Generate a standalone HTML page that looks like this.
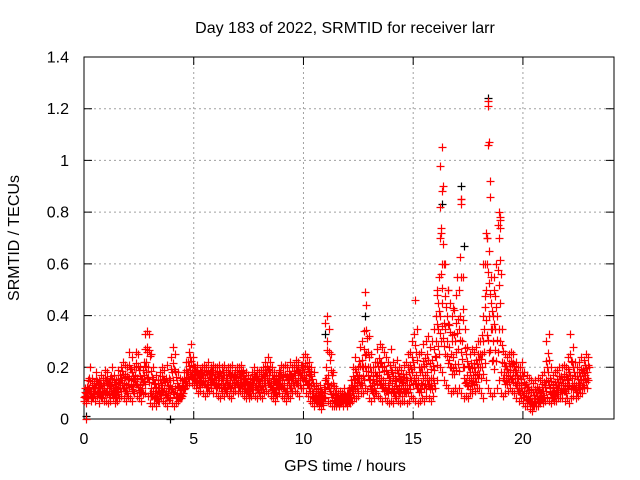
<!DOCTYPE html>
<html><head><meta charset="utf-8"><style>
body{margin:0;background:#fff;}
svg{display:block;font-family:"Liberation Sans",sans-serif;}
</style></head><body>
<svg id="chart" width="640" height="480" viewBox="0 0 640 480" xmlns="http://www.w3.org/2000/svg">
<rect width="640" height="480" fill="#fff"/>
<g id="grid"></g>
<g id="axes"></g>
<g id="marks"></g>
<text x="345" y="33" font-size="16" text-anchor="middle">Day 183 of 2022, SRMTID for receiver larr</text>
<text x="345" y="471" font-size="16" text-anchor="middle">GPS time / hours</text>
<text transform="translate(19,238) rotate(-90)" font-size="16" text-anchor="middle">SRMTID / TECUs</text>
</svg>
<script>
const xTicks=[0,5,10,15,20];
const yTicks=[0,0.2,0.4,0.6,0.8,1,1.2,1.4];
const yTickLabels=["0","0.2","0.4","0.6","0.8","1","1.2","1.4"];
const hiVals=[.12,.15,.2,.16,.14,.18,.15,.17,.16,.19, .18,.16,.2,.17,.15,.19,.2,.22,.21,.2, .26,.24,.2,.26,.25,.2,.19,.27,.34,.33, .25,.2,.17,.15,.18,.2,.19,.21,.16,.24, .28,.25,.18,.16,.15,.18,.22,.26,.29,.24, .2,.21,.19,.2,.21,.2,.22,.2,.21,.2, .2,.21,.2,.21,.19,.2,.2,.21,.19,.2, .2,.21,.19,.18,.17,.16,.18,.2,.19,.18, .19,.2,.22,.24,.22,.2,.18,.17,.19,.21, .2,.21,.2,.22,.2,.21,.23,.22,.21,.24, .25,.24,.22,.2,.18,.14,.12,.13,.1,.15, .4,.35,.25,.18,.12,.1,.11,.1,.12,.1, .12,.15,.2,.24,.2,.28,.3,.34,.44,.32, .25,.2,.22,.27,.29,.28,.26,.24,.22,.27, .22,.2,.23,.2,.19,.21,.22,.25,.26,.3, .46,.35,.25,.26,.29,.3,.32,.28,.3,.35, .5,.55,.72,.9,.6,.5,.45,.4,.42,.48, .5,.85,.55,.35,.28,.25,.27,.26,.28,.3, .3,.4,.6,.7,.65,.55,.5,.6,.75,.78, .35,.25,.24,.25,.26,.25,.22,.2,.2,.22, .18,.17,.16,.15,.14,.15,.16,.15,.17,.18, .3,.33,.2,.17,.18,.19,.2,.2,.21,.2, .24,.33,.28,.22,.2,.22,.24,.23,.25,.24];
const midVals=[.09,.1,.12,.1,.11,.13,.12,.11,.12,.13, .12,.11,.13,.12,.1,.12,.14,.15,.14,.13, .16,.15,.13,.17,.16,.13,.12,.17,.22,.2, .12,.11,.1,.09,.12,.13,.12,.11,.1,.15, .15,.12,.1,.09,.1,.13,.16,.18,.19,.18, .17,.16,.15,.16,.17,.16,.15,.16,.17,.16, .15,.16,.14,.15,.13,.16,.15,.14,.15,.16, .15,.16,.14,.13,.12,.12,.14,.15,.14,.13, .14,.15,.16,.17,.16,.14,.13,.12,.14,.15, .15,.14,.13,.15,.14,.16,.17,.16,.15,.18, .18,.17,.15,.13,.1,.09,.08,.09,.07,.1, .2,.17,.13,.1,.08,.07,.07,.08,.08,.07, .08,.1,.13,.15,.14,.17,.16,.2,.25,.2, .15,.13,.14,.17,.18,.16,.15,.14,.13,.15, .14,.12,.15,.13,.12,.14,.13,.15,.16,.18, .2,.17,.15,.14,.16,.17,.18,.15,.16,.19, .3,.35,.4,.45,.35,.3,.28,.25,.24,.26, .27,.4,.3,.2,.17,.15,.16,.17,.18,.2, .2,.25,.35,.5,.4,.35,.3,.35,.4,.45, .22,.18,.17,.18,.19,.18,.16,.14,.13,.14, .11,.1,.09,.08,.07,.08,.09,.08,.1,.11, .15,.18,.12,.1,.11,.12,.13,.13,.14,.13, .15,.17,.16,.14,.13,.14,.15,.15,.17,.18];
const loVals=[.07,.06,.08,.07,.08,.07,.09,.06,.08,.07, .07,.06,.07,.08,.06,.07,.08,.09,.08,.07, .09,.08,.07,.1,.09,.08,.07,.1,.1,.09, .06,.05,.06,.05,.07,.08,.07,.06,.05,.08, .06,.05,.06,.07,.08,.1,.12,.13,.14,.14, .13,.12,.1,.11,.1,.09,.1,.11,.12,.1, .1,.09,.08,.1,.09,.1,.09,.08,.1,.11, .1,.11,.1,.09,.08,.08,.09,.1,.09,.08, .09,.08,.1,.11,.1,.09,.08,.07,.09,.1, .09,.08,.07,.09,.08,.1,.11,.1,.09,.12, .12,.1,.09,.07,.06,.05,.06,.05,.04,.06, .08,.07,.06,.05,.05,.05,.05,.06,.05,.06, .05,.06,.07,.08,.08,.09,.1,.1,.12,.11, .08,.07,.08,.1,.09,.08,.07,.08,.07,.06, .07,.06,.08,.07,.06,.07,.07,.06,.07,.09, .08,.07,.06,.07,.08,.07,.09,.08,.07,.09, .12,.15,.2,.18,.15,.13,.12,.1,.11,.12, .1,.12,.1,.08,.09,.08,.1,.1,.11,.12, .12,.1,.08,.15,.12,.1,.09,.1,.12,.15, .1,.09,.1,.11,.12,.11,.1,.08,.07,.08, .06,.05,.05,.04,.03,.05,.05,.05,.06,.06, .07,.08,.07,.06,.07,.07,.08,.08,.08,.07, .08,.06,.08,.09,.08,.09,.1,.1,.12,.12];
const spikeT=[16.3,16.2,16.3,16.2,16.25,16.2,16.3,17.2,17.2,18.4,18.4,18.45,18.4,18.5,18.5,18.3,18.35,18.9,18.95,18.95,18.9,17.0,16.6,16.8,18.2,12.8,11.0,2.8,0.1,16.4,16.1,18.6,18.7];
const spikeV=[1.05,.98,.88,.82,.74,.7,.6,.85,.83,1.23,1.21,1.07,1.06,.92,.86,.72,.7,.8,.77,.74,.7,.55,.5,.43,.6,.49,.37,.33,0,.37,.48,.35,.55];
const blackT=[0.1,3.9,18.4,17.2,16.3,17.3,12.8,11.0];
const blackV=[0.01,0.0,1.24,.9,.83,.67,.4,.33];

const X0=84,X1=614,Y0=419,Y1=57,XMAX=24.15,YMAX=1.4;
const sx=v=>X0+v/XMAX*(X1-X0);
const sy=v=>Y0-v/YMAX*(Y0-Y1);
const NS="http://www.w3.org/2000/svg";
const grid=document.getElementById('grid'),axes=document.getElementById('axes'),marks=document.getElementById('marks');
function mk(tag,attrs,parent){const e=document.createElementNS(NS,tag);for(const k in attrs)e.setAttribute(k,attrs[k]);parent.appendChild(e);return e;}
yTicks.forEach((t,i)=>{
  const y=sy(t);
  if(t>0&&t<YMAX){const g=mk('line',{x1:X0,x2:X1,y1:y,y2:y,stroke:'#a0a0a0','stroke-dasharray':'2,3'},grid);
  
  }
  const tk=mk('path',{d:`M${X0} ${y}h8M${X1} ${y}h-8`,stroke:'#000'},axes);
  
  
  const lb=mk('text',{x:X0-15,y:y+5.5,'font-size':16,'text-anchor':'end'},axes);lb.textContent=yTickLabels[i];
  
  
});
xTicks.forEach(t=>{
  const x=sx(t);
  if(t>0){const g=mk('line',{x1:x,x2:x,y1:Y0,y2:Y1,stroke:'#a0a0a0','stroke-dasharray':'2,3'},grid);
  
  }
  const tk=mk('path',{d:`M${x} ${Y0}v-8M${x} ${Y1}v8`,stroke:'#000'},axes);
  
  
  const lb=mk('text',{x:x,y:Y0+25,'font-size':16,'text-anchor':'middle'},axes);lb.textContent=String(t);
  
  
});
const fr=mk('rect',{x:X0,y:Y1,width:X1-X0,height:Y0-Y1,fill:'none',stroke:'#000'},axes);


function plus(t,v,col){
  const x=Math.round(sx(t))+0.5,y=Math.round(sy(v))+0.5;
  const p=mk('path',{d:`M${x-4} ${y}h8M${x} ${y-4}v8`,stroke:col,'stroke-width':1.2},marks);
  
  
}
blackT.forEach((t,i)=>plus(t,blackV[i],'#000'));
[loVals,midVals,hiVals].forEach((arr,k)=>{
  arr.forEach((v,i)=>{const t=i*0.1+k*0.033;plus(t,v,'#f00');});
});
midVals.forEach((v,i)=>{const t=i*0.1+0.05;plus(t,(v+hiVals[i])/2,'#f00');plus(t+0.02,(v+loVals[i])/2,'#f00');plus(t+0.04,(2*v+hiVals[i])/3,'#f00');plus(t-0.03,(2*v+loVals[i])/3,'#f00');});
spikeT.forEach((t,i)=>plus(t,spikeV[i],'#f00'));
</script>
</body></html>
